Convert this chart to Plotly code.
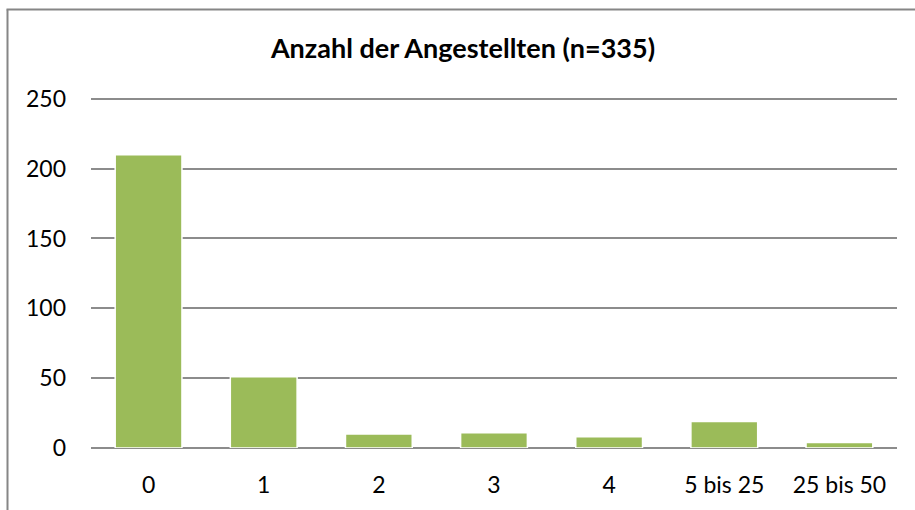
import plotly.graph_objects as go

categories = ["0", "1", "2", "3", "4", "5 bis 25", "25 bis 50"]
values = [210, 51, 10, 11, 8, 19, 4]
y_ticks = [0, 50, 100, 150, 200, 250]
title_text = "Anzahl der Angestellten (n=335)"

W, H = 915, 510
ML, MR, MT, MB = 91, 18, 96, 62
pw = W - ML - MR
ph = H - MT - MB

def px_to_paper_x(px):
    return (px - ML) / pw

def px_to_paper_y(py):
    return (H - MB - py) / ph

fig = go.Figure(
    go.Bar(
        x=categories,
        y=values,
        marker=dict(color="#9BBB59", line=dict(color="white", width=1.5)),
        hoverinfo="x+y",
    )
)

border_color = "#868686"
fig.add_shape(type="line", xref="paper", yref="paper",
              x0=px_to_paper_x(7.5), x1=px_to_paper_x(7.5),
              y0=px_to_paper_y(9.5), y1=px_to_paper_y(515),
              line=dict(color=border_color, width=2))
fig.add_shape(type="line", xref="paper", yref="paper",
              x0=px_to_paper_x(6.5), x1=px_to_paper_x(920),
              y0=px_to_paper_y(9.5), y1=px_to_paper_y(9.5),
              line=dict(color=border_color, width=2))

font_family = "Lato, 'Open Sans', sans-serif"
grid_color = "#8c8c8c"

fig.update_layout(
    width=W, height=H, autosize=False,
    margin=dict(l=ML, r=MR, t=MT, b=MB, pad=0),
    paper_bgcolor="white", plot_bgcolor="white",
    bargap=0.42,
    showlegend=False,
    font=dict(family=font_family, size=23, color="black"),
    title=dict(text="<b>" + title_text + "</b>", x=463 / W, xanchor="center",
               y=1 - 49 / H, yanchor="middle",
               font=dict(family=font_family, size=27, color="black")),
    xaxis=dict(showgrid=False, showline=False, zeroline=False,
               ticks="", ticklabelstandoff=21,
               tickfont=dict(size=23)),
    yaxis=dict(range=[0, 252], tickvals=y_ticks, showgrid=True,
               gridcolor=grid_color, gridwidth=1.5,
               zeroline=True, zerolinecolor=grid_color, zerolinewidth=1.5,
               showline=False, ticks="", ticklabelstandoff=24,
               tickfont=dict(size=23)),
)

fig.write_html("out.html", config={"displayModeBar": False},
               post_script="document.body.style.margin='0';")
